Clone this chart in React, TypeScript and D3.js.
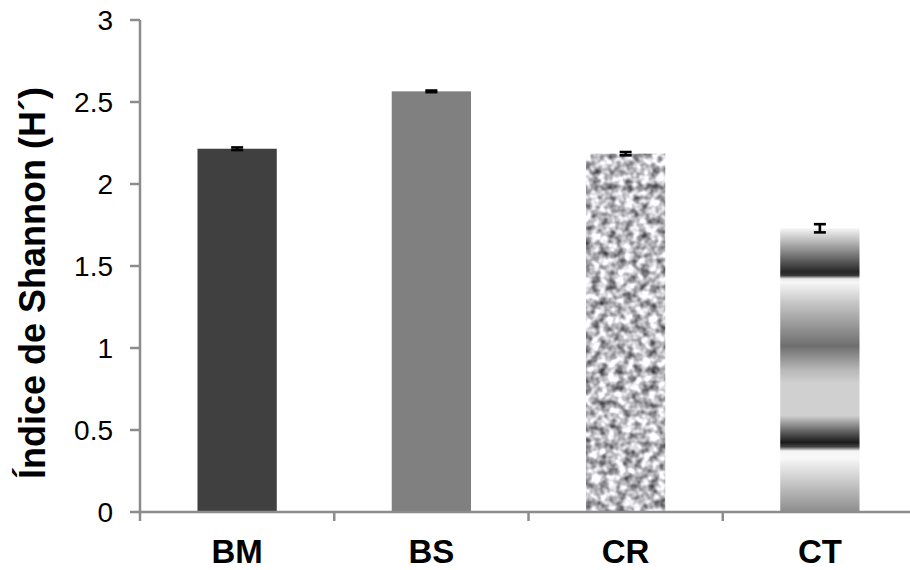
import React from 'react';
import * as d3 from 'd3';

const categories = ['BM', 'BS', 'CR', 'CT'];
const values = [2.215, 2.565, 2.185, 1.73];
const errors = [0.008, 0.005, 0.01, 0.025];
const yTicks = [0, 0.5, 1, 1.5, 2, 2.5, 3];
const yTickLabels = ['0', '0.5', '1', '1.5', '2', '2.5', '3'];
const yTitle = 'Índice de Shannon (H´)';

const bandStops: [number, string][] = [
  [0, '#f6f6f6'],
  [0.05, '#b4b4b4'],
  [0.154, '#262626'],
  [0.166, '#353535'],
  [0.178, '#e8e8e8'],
  [0.19, '#f7f7f7'],
  [0.26, '#c8c8c8'],
  [0.415, '#6e6e6e'],
  [0.5, '#b8b8b8'],
  [0.545, '#d0d0d0'],
  [0.66, '#d0d0d0'],
  [0.72, '#5a5a5a'],
  [0.755, '#1a1a1a'],
  [0.77, '#444444'],
  [0.785, '#f5f5f5'],
  [0.81, '#f8f8f8'],
  [1, '#8c8c8c'],
];

const W = 910;
const H = 570;
const axisColor = '#8c8c8c';

export default function App() {
  const y = d3.scaleLinear().domain([0, 3]).range([512, 20]);
  const x = d3.scaleBand<string>().domain(categories).range([140, 917]).paddingInner(0).paddingOuter(0);
  const bw = x.bandwidth() / 2.45;
  const fills = ['#404040', '#808080', '#aaaaaa', 'url(#ctBands)'];
  const boundaries = categories.map((c) => x(c) as number);

  return (
    <svg width={W} height={H} style={{ position: 'absolute', left: 0, top: 0, background: '#fff' }}
      fontFamily="'Liberation Sans', Arial, sans-serif">
      <defs>
        <linearGradient id="ctBands" x1="0" y1="0" x2="0" y2="1">
          {bandStops.map(([o, c], i) => (
            <stop key={i} offset={o} stopColor={c} />
          ))}
        </linearGradient>
        <filter id="granite" x="0" y="0" width="1" height="1" filterUnits="objectBoundingBox"
          colorInterpolationFilters="sRGB">
          <feTurbulence type="fractalNoise" baseFrequency="0.12" numOctaves="2" seed="7" result="noise" />
          <feColorMatrix in="noise" type="matrix"
            values="1.35 0 0 0 0.06  1.35 0 0 0 0.06  1.35 0 0 0 0.08  0 0 0 0 1" result="gray" />
          <feComposite in="gray" in2="SourceGraphic" operator="in" />
        </filter>
      </defs>
      <rect width={W} height={H} fill="#fff" />

      {/* bars */}
      {categories.map((c, i) => {
        const cx = (x(c) as number) + x.bandwidth() / 2;
        const top = y(values[i]);
        return (
          <rect key={c} x={cx - bw / 2} y={top} width={bw} height={y(0) - top}
            fill={fills[i]} filter={i === 2 ? 'url(#granite)' : undefined} />
        );
      })}

      {/* axes */}
      <line x1={140} x2={140} y1={y(3)} y2={y(0)} stroke={axisColor} strokeWidth={2.5} />
      <line x1={138.75} x2={W} y1={y(0)} y2={y(0)} stroke={axisColor} strokeWidth={2.5} />
      {yTicks.map((t) => (
        <line key={t} x1={130} x2={140} y1={y(t)} y2={y(t)} stroke={axisColor} strokeWidth={2.5} />
      ))}
      {boundaries.map((b, i) => (
        <line key={i} x1={b} x2={b} y1={y(0)} y2={y(0) + 9} stroke={axisColor} strokeWidth={2.5} />
      ))}

      {/* error bars */}
      {categories.map((c, i) => {
        const cx = (x(c) as number) + x.bandwidth() / 2;
        const y1 = y(values[i] + errors[i]);
        const y2 = y(values[i] - errors[i]);
        const cap = 6;
        return (
          <g key={c} stroke="#000" strokeWidth={2.6}>
            <line x1={cx} x2={cx} y1={y1} y2={y2} />
            <line x1={cx - cap} x2={cx + cap} y1={y1} y2={y1} />
            <line x1={cx - cap} x2={cx + cap} y1={y2} y2={y2} />
          </g>
        );
      })}

      {/* tick labels */}
      {yTicks.map((t, i) => (
        <text key={t} x={113} y={y(t)} dy="0.36em" textAnchor="end" fontSize={28} fill="#000">
          {yTickLabels[i]}
        </text>
      ))}
      {categories.map((c) => (
        <text key={c} x={(x(c) as number) + x.bandwidth() / 2} y={563} textAnchor="middle"
          fontSize={33} fontWeight="bold" fill="#000">
          {c}
        </text>
      ))}

      {/* y title */}
      <text transform={`translate(45, 283) rotate(-90)`} textAnchor="middle" fontSize={36}
        fontWeight="bold" fill="#000">
        {yTitle}
      </text>
    </svg>
  );
}
